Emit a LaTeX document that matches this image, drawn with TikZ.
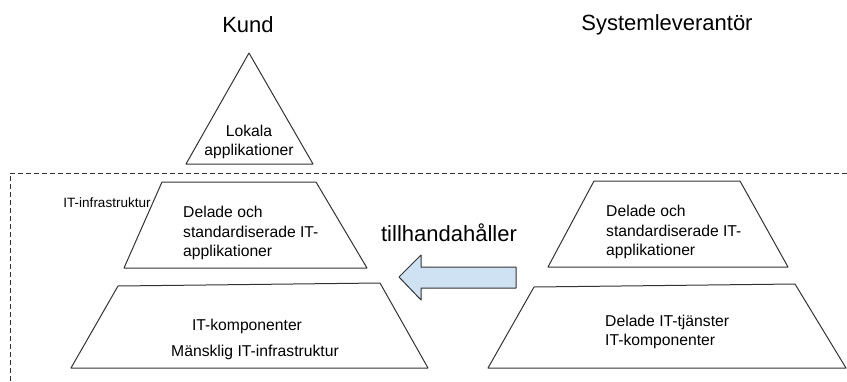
\documentclass[tikz,border=0pt]{standalone}
\usepackage{fontspec}
\setmainfont{Liberation Sans}
\definecolor{arrowblue}{HTML}{CFE2F3}
\definecolor{linegray}{HTML}{333333}
\begin{document}
\begin{tikzpicture}[
    x=1pt, y=-1pt,
    outline/.style={draw=linegray, line width=1pt, line join=round},
    titletext/.style={font=\fontsize{22}{26}\selectfont, inner sep=0pt},
    bodytext/.style={font=\fontsize{15.7}{19.5}\selectfont, inner sep=0pt},
    smalltext/.style={font=\fontsize{13.5}{16}\selectfont, inner sep=0pt},
    border/.style={draw=linegray, line width=1pt, dash pattern=on 5pt off 3pt}
]
\useasboundingbox (0,0) rectangle (847,381);

% titles
\node[titletext] (kund) at (248,25) {Kund};
\node[titletext] (lev) at (667,25) {Systemleverantör};

% local part on top
\draw[outline] (249,53) -- (313,164) -- (186,164) -- cycle;
\node[bodytext, align=center] (lokala) at (249,142) {Lokala\\ applikationer};

% infrastructure boundary
\draw[border] (847,173) -- (10,173) -- (10,381);
\node[smalltext] (infra) at (107,203) {IT-infrastruktur};

% customer side
\draw[outline] (162,182) -- (316,182) -- (367,268) -- (124,268) -- cycle;
\node[bodytext, align=left, anchor=west] (kapp) at (183,233) {Delade och\\ standardiserade IT-\\ applikationer};
\draw[outline] (118,286) -- (380,283) -- (428,368) -- (71,368) -- cycle;
\node[bodytext] (kkomp) at (247,326) {IT-komponenter};
\node[bodytext] (kmansk) at (255,352) {Mänsklig IT-infrastruktur};

% supplier side
\draw[outline] (594,181) -- (740,181) -- (788,267) -- (548,267) -- cycle;
\node[bodytext, align=left, anchor=west] (sapp) at (606,232) {Delade och\\ standardiserade IT-\\ applikationer};
\draw[outline] (534,287) -- (795,284) -- (846,368) -- (488,368) -- cycle;
\node[bodytext, align=left, anchor=west] (stj) at (605,332) {Delade IT-tjänster\\ IT-komponenter};

% provides
\node[titletext] (till) at (449,233) {tillhandahåller};
\draw[outline, fill=arrowblue] (399,277) -- (421,255) -- (421,267) -- (516,267)
    -- (516,288) -- (421,288) -- (421,300) -- cycle;
\end{tikzpicture}
\end{document}
